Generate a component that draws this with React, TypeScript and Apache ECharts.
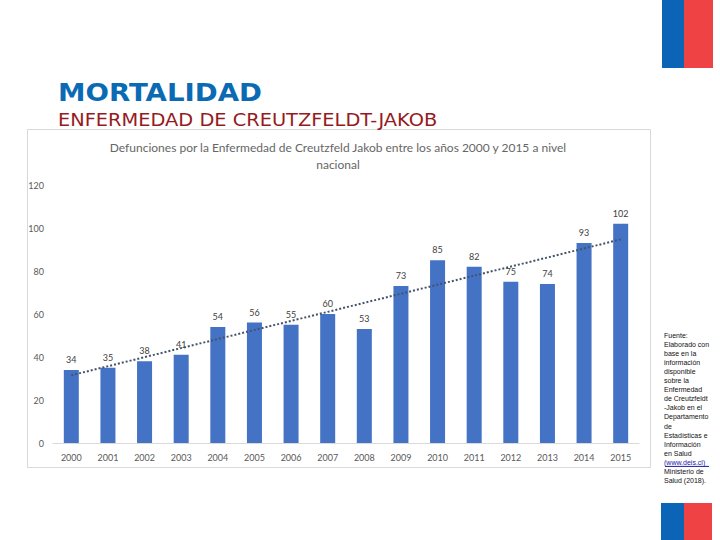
import React, { useEffect, useRef } from "react";
import * as echarts from "echarts";

const years = ["2000","2001","2002","2003","2004","2005","2006","2007","2008","2009","2010","2011","2012","2013","2014","2015"];
const deaths = [34, 35, 38, 41, 54, 56, 55, 60, 53, 73, 85, 82, 75, 74, 93, 102];
// linear trend end points (start 2000, end 2015)
const trendStart = 31.5;
const trendEnd = 94.7;
const yTicks = { min: 0, max: 120, interval: 20 };

const headerTitle = "MORTALIDAD";
const headerSubtitle = "ENFERMEDAD DE CREUTZFELDT-JAKOB";
const chartTitle = "Defunciones por la Enfermedad de Creutzfeld Jakob entre los años 2000 y 2015 a nivel\nnacional";
const sourceLines = [
  "Fuente:",
  "Elaborado con",
  "base en la",
  "información",
  "disponible",
  "sobre la",
  "Enfermedad",
  "de Creutzfeldt",
  "-Jakob en el",
  "Departamento",
  "de",
  "Estadísticas e",
  "Información",
  "en Salud",
  "(www.deis.cl)",
  "Ministerio de",
  "Salud (2018).",
];

export default function App() {
  const ref = useRef<HTMLDivElement>(null);
  useEffect(() => {
    if (!ref.current) return;
    const chart = echarts.init(ref.current, null, { renderer: "svg" });
    const trendData = years.map((_, i) => (i === 0 ? trendStart : i === years.length - 1 ? trendEnd : null));
    const graphics: any[] = [
      // frame
      { type: "rect", shape: { x: 27.5, y: 129.5, width: 623, height: 338 }, style: { fill: "none", stroke: "#d9d9d9", lineWidth: 1 }, silent: true },
      // flags
      { type: "rect", shape: { x: 662, y: 0, width: 22, height: 68 }, style: { fill: "#0b64b6" } },
      { type: "rect", shape: { x: 684, y: 0, width: 29, height: 68 }, style: { fill: "#ee4245" } },
      { type: "rect", shape: { x: 661, y: 503, width: 23, height: 37 }, style: { fill: "#0b64b6" } },
      { type: "rect", shape: { x: 684, y: 503, width: 28, height: 37 }, style: { fill: "#ee4245" } },
      // header
      { type: "text", x: 58, y: 93, scaleX: 1.15, style: { text: headerTitle, font: "bold 24px 'DejaVu Sans'", fill: "#0a6ab4", textVerticalAlign: "middle" } },
      { type: "text", x: 58, y: 120, scaleX: 1.14, style: { text: headerSubtitle, font: "17px 'DejaVu Sans'", fill: "#951b1e", textVerticalAlign: "middle" } },
      // chart title
      { type: "text", x: 338, y: 139, style: { text: chartTitle, font: "12px Lato", fill: "#666666", textAlign: "center", lineHeight: 17 } },
    ];
    sourceLines.forEach((line, i) => {
      const isLink = line.indexOf("www") >= 0;
      graphics.push({
        type: "text",
        x: 664,
        y: 335 + i * 9.1,
        style: {
          text: line,
          font: "7px 'Liberation Sans'",
          fill: isLink ? "#1a1aa6" : "#111111",
          textVerticalAlign: "middle",
        },
      });
      if (isLink) {
        graphics.push({ type: "line", shape: { x1: 665, y1: 335 + i * 9.1 + 4, x2: 709, y2: 335 + i * 9.1 + 4 }, style: { stroke: "#1a1aa6", lineWidth: 1 } });
      }
    });

    chart.setOption({
      animation: false,
      backgroundColor: "#ffffff",
      grid: { left: 53, right: 81, top: 185, bottom: 97, containLabel: false },
      xAxis: {
        type: "category",
        data: years,
        axisLine: { show: true, lineStyle: { color: "#d9d9d9" } },
        axisTick: { show: false },
        axisLabel: { color: "#595959", fontSize: 9, fontFamily: "Lato", margin: 10 },
      },
      yAxis: {
        type: "value",
        min: yTicks.min,
        max: yTicks.max,
        interval: yTicks.interval,
        axisLine: { show: false },
        axisTick: { show: false },
        splitLine: { show: false },
        axisLabel: { color: "#595959", fontSize: 9, fontFamily: "Lato", margin: 9 },
      },
      series: [
        {
          type: "bar",
          data: deaths,
          barWidth: 15,
          itemStyle: { color: "#4472c4" },
          label: { show: true, position: "top", distance: 6, color: "#404040", fontSize: 9, fontFamily: "Lato" },
          z: 2,
        },
        {
          type: "line",
          data: trendData,
          connectNulls: true,
          symbol: "none",
          lineStyle: { color: "#44546a", width: 2, type: [2, 2] },
          z: 3,
          silent: true,
        },
      ],
      graphic: graphics,
    });
    return () => chart.dispose();
  }, []);
  return <div ref={ref} style={{ position: "fixed", left: 0, top: 0, width: 720, height: 540 }} />;
}
